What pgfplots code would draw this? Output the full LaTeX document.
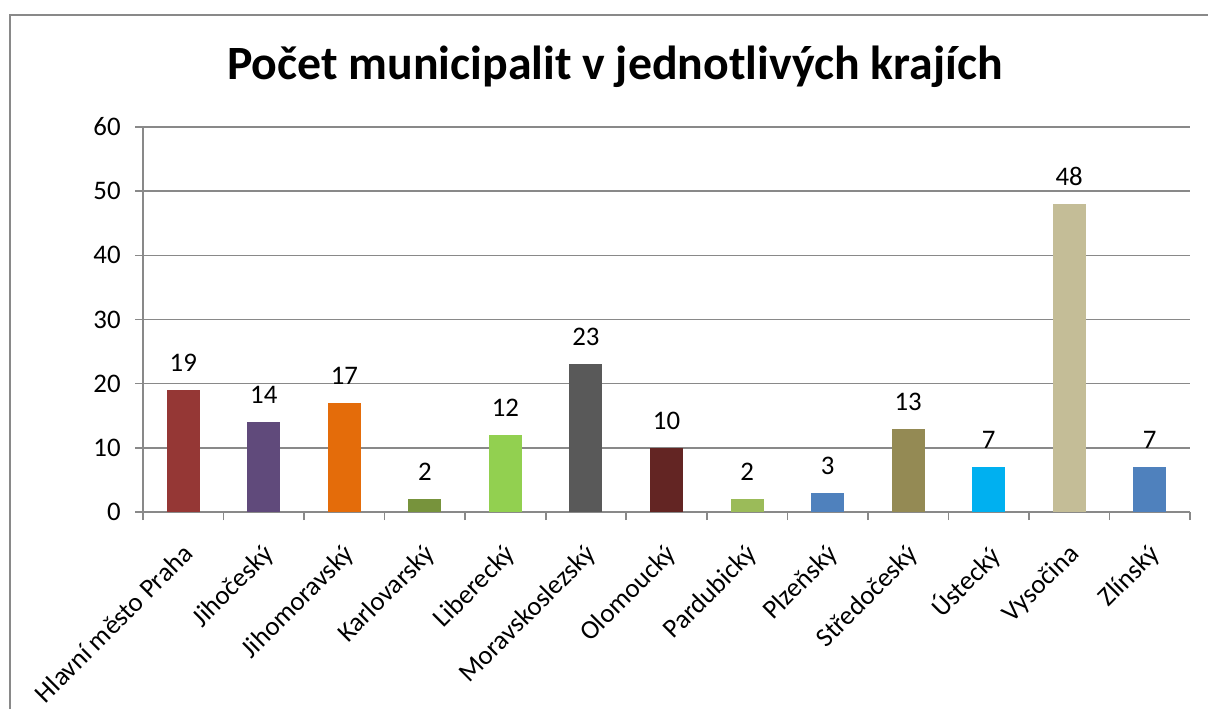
\documentclass[border=0pt]{standalone}
\usepackage{pgfplots}
\pgfplotsset{compat=1.18}
\usepackage{fontspec}
\setmainfont{Carlito}
\definecolor{c1}{HTML}{953735}
\definecolor{c2}{HTML}{604A7B}
\definecolor{c3}{HTML}{E46C0A}
\definecolor{c4}{HTML}{77933C}
\definecolor{c5}{HTML}{92D050}
\definecolor{c6}{HTML}{595959}
\definecolor{c7}{HTML}{632523}
\definecolor{c8}{HTML}{9BBB59}
\definecolor{c9}{HTML}{4F81BD}
\definecolor{c10}{HTML}{948A54}
\definecolor{c11}{HTML}{00B0F0}
\definecolor{c12}{HTML}{C4BD97}
\definecolor{c13}{HTML}{4F81BD}
\definecolor{gridgray}{HTML}{898989}
\begin{document}
\begin{tikzpicture}
\useasboundingbox (0,0) rectangle (604pt,354.5pt);
\draw[gridgray, line width=0.8pt] (5pt,0) -- (5pt,347pt) -- (604pt,347pt);
\node[font=\bfseries\fontsize{23.9}{28}\selectfont] at (307.5pt,321pt) {Počet municipalit v jednotlivých krajích};
\begin{axis}[
  at={(71.5pt,98.5pt)}, anchor=south west,
  scale only axis, width=523.5pt, height=192.5pt,
  xmin=-0.5, xmax=12.5, ymin=0, ymax=60,
  ytick={0,10,...,60},
  xtick={0,...,12},
  xticklabels={Hlavní město Praha,Jihočeský,Jihomoravský,Karlovarský,Liberecký,Moravskoslezský,Olomoucký,Pardubický,Plzeňský,Středočeský,Ústecký,Vysočina,Zlínský},
  minor xtick={-0.5,0.5,...,12.5},
  major x tick style={draw=none},
  tick align=outside,
  major tick length=4pt, minor tick length=4pt,
  tick style={gridgray, line width=0.8pt},
  axis x line*=bottom, axis y line*=left,
  axis line style={gridgray, line width=0.8pt, -},
  ymajorgrids, grid style={gridgray, line width=0.8pt},
  /pgf/number format/assume math mode=true,
  ticklabel style={font=\fontsize{13.4}{16}\selectfont},
  yticklabel style={inner sep=0pt, xshift=-7pt},
  xticklabel style={rotate=45, anchor=north east, inner sep=0pt, yshift=-7pt, xshift=-8.5pt},
  ybar, bar width=16.5pt, bar shift=0pt,
  nodes near coords,
  every node near coord/.append style={font=\fontsize{13.4}{16}\selectfont, inner sep=0pt, anchor=south, yshift=9pt, black},
]
\addplot[fill=c1, draw=none] coordinates {(0,19)};
\addplot[fill=c2, draw=none] coordinates {(1,14)};
\addplot[fill=c3, draw=none] coordinates {(2,17)};
\addplot[fill=c4, draw=none] coordinates {(3,2)};
\addplot[fill=c5, draw=none] coordinates {(4,12)};
\addplot[fill=c6, draw=none] coordinates {(5,23)};
\addplot[fill=c7, draw=none] coordinates {(6,10)};
\addplot[fill=c8, draw=none] coordinates {(7,2)};
\addplot[fill=c9, draw=none] coordinates {(8,3)};
\addplot[fill=c10, draw=none] coordinates {(9,13)};
\addplot[fill=c11, draw=none] coordinates {(10,7)};
\addplot[fill=c12, draw=none] coordinates {(11,48)};
\addplot[fill=c13, draw=none] coordinates {(12,7)};
\end{axis}
\end{tikzpicture}
\end{document}
